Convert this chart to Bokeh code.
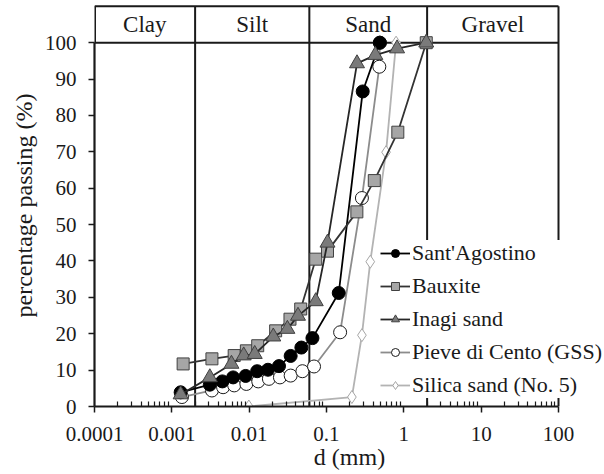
from bokeh.plotting import figure
from bokeh.models import (Legend, LegendItem, FixedTicker, NumeralTickFormatter,
                          Label, ColumnDataSource)
from bokeh.embed import file_html
from bokeh.resources import INLINE
import numpy as np

# ---- data ----
sant_d = [0.0013, 0.0031, 0.0045, 0.0062, 0.009, 0.0127, 0.0175, 0.0243, 0.0344, 0.0473, 0.0658, 0.144, 0.294, 0.49]
sant_p = [3.9, 6.0, 6.9, 8.0, 8.4, 9.7, 10.1, 11.1, 13.9, 16.2, 18.8, 31.2, 86.6, 100]

baux_d = [0.0014, 0.0033, 0.0064, 0.0092, 0.0129, 0.022, 0.0337, 0.0464, 0.0726, 0.103, 0.247, 0.415, 0.836, 1.95]
baux_p = [11.7, 13.1, 14.0, 15.3, 16.7, 20.8, 24.0, 26.8, 40.5, 42.7, 53.5, 62.1, 75.4, 100]

inagi_d = [0.0013, 0.0031, 0.0059, 0.0085, 0.0118, 0.0205, 0.0312, 0.0428, 0.0726, 0.103, 0.248, 0.428, 0.818, 1.95]
inagi_p = [3.3, 8.0, 11.7, 14.0, 14.4, 19.2, 21.3, 24.9, 28.9, 45.0, 94.3, 96.6, 98.4, 100]

pieve_d = [0.00135, 0.0033, 0.0046, 0.0064, 0.0092, 0.0131, 0.018, 0.025, 0.0344, 0.0488, 0.069, 0.150, 0.287, 0.482, 0.49]
pieve_p = [2.6, 4.4, 5.3, 5.8, 6.2, 6.9, 7.6, 8.0, 8.5, 9.7, 11.0, 20.4, 57.3, 93.4, 100]

silica_d = [0.0099, 0.213, 0.287, 0.368, 0.589, 0.794]
silica_p = [0, 2.6, 19.6, 39.8, 69.9, 100]

class_names = ["Clay", "Silt", "Sand", "Gravel"]
class_bounds = [0.0001, 0.002, 0.06, 2, 100]
x_ticks = [0.0001, 0.001, 0.01, 0.1, 1, 10, 100]
y_ticks = [0, 10, 20, 30, 40, 50, 60, 70, 80, 90, 100]
y_top = 110

FONT = "Liberation Serif"
INK = "#1a1a1a"

# frame runs to the right page edge so the legend can overhang the box, as in the reference
x_end = 10 ** (2 + 46 / 77.33)
p = figure(width=604, height=474, x_axis_type="log", x_range=(0.0001, x_end), y_range=(0, 110.5),
           output_backend="svg", toolbar_location=None,
           min_border_left=94, min_border_right=0, min_border_top=4, min_border_bottom=68)
p.xgrid.visible = False
p.ygrid.visible = False
p.outline_line_color = None
p.background_fill_color = "white"
p.border_fill_color = "white"

# axes
minor = [m * 10.0 ** e for e in range(-4, 2) for m in range(2, 10)]
p.xaxis.ticker = FixedTicker(ticks=x_ticks, minor_ticks=minor)
p.xaxis.formatter = NumeralTickFormatter(format="0.[0000]")
p.xaxis.bounds = (class_bounds[0], class_bounds[-1])
p.yaxis.ticker = FixedTicker(ticks=y_ticks)
p.yaxis.bounds = (0, 100)
p.xaxis.axis_label = "d (mm)"
p.yaxis.axis_label = "percentage passing (%)"
for axes in (p.xaxis, p.yaxis):
    axes.axis_line_width = 2.2
    axes.axis_line_color = INK
    axes.major_tick_line_color = INK
    axes.major_tick_line_width = 1.5
    axes.major_tick_out = 6
    axes.major_tick_in = 0
    axes.major_label_text_font = FONT
    axes.major_label_text_font_size = "21px"
    axes.major_label_text_color = INK
    axes.axis_label_text_font = FONT
    axes.axis_label_text_font_size = "24px"
    axes.axis_label_text_font_style = "normal"
    axes.axis_label_text_color = INK
p.xaxis.minor_tick_in = 5
p.xaxis.minor_tick_out = 0
p.xaxis.minor_tick_line_color = INK
p.xaxis.minor_tick_line_width = 1.2
p.yaxis.minor_tick_line_color = None
p.xaxis.major_label_standoff = 14
p.yaxis.major_label_standoff = 12
p.xaxis.axis_label_standoff = 0
p.yaxis.axis_label_standoff = 5

# box, class boundaries and header band
x0, x1 = class_bounds[0], class_bounds[-1]
p.segment(x0=[x0, x0], x1=[x1, x1], y0=[100, y_top], y1=[100, y_top], line_color=INK, line_width=2)
p.segment(x0=[x0], x1=[x0], y0=[100], y1=[y_top], line_color=INK, line_width=3)
p.segment(x0=class_bounds[1:], x1=class_bounds[1:], y0=[0] * 4, y1=[y_top] * 4,
          line_color=INK, line_width=2)
for i, name in enumerate(class_names):
    cx = float(np.sqrt(class_bounds[i] * class_bounds[i + 1]))
    p.add_layout(Label(x=cx, y=105, text=name, text_align="center", text_baseline="middle",
                       text_font=FONT, text_font_size="23px", text_color=INK))

# series
series = [
    ("Silica sand (No. 5)", silica_d, silica_p, "diamond", 13, "white", "#a6a6a6", "#b3b3b3"),
    ("Pieve di Cento (GSS)", pieve_d, pieve_p, "circle", 13, "white", INK, "#8c8c8c"),
    ("Sant'Agostino", sant_d, sant_p, "circle", 13, "black", "black", "black"),
    ("Bauxite", baux_d, baux_p, "square", 12, "#a6a6a6", "#404040", "#333333"),
    ("Inagi sand", inagi_d, inagi_p, "triangle", 15, "#7a7a7a", "#404040", "#262626"),
]
items = {}
for name, d, pp, marker, size, fill, mline, lcol in series:
    src = ColumnDataSource(dict(d=d, p=pp))
    lr = p.line("d", "p", source=src, line_color=lcol, line_width=1.8)
    sr = p.scatter("d", "p", source=src, marker=marker, size=size, fill_color=fill,
                   line_color=mline, line_width=1)
    items[name] = [lr, sr]

order = ["Sant'Agostino", "Bauxite", "Inagi sand", "Pieve di Cento (GSS)", "Silica sand (No. 5)"]
legend = Legend(items=[LegendItem(label=n, renderers=items[n]) for n in order],
                location=(286, 8), glyph_width=30, glyph_height=20, label_height=20,
                spacing=7, padding=0, margin=0, label_standoff=2,
                border_line_color=None, background_fill_color="white", background_fill_alpha=1,
                label_text_font=FONT, label_text_font_size="22px", label_text_color=INK)
p.add_layout(legend)

open("out.html", "w").write(file_html(p, INLINE))
